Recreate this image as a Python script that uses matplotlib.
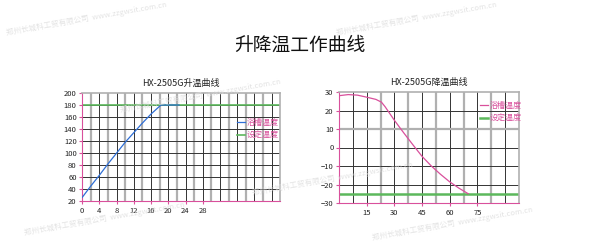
import matplotlib.pyplot as plt
import numpy as np

plt.rcParams['font.family'] = ['Noto Sans CJK SC', 'DejaVu Sans']

# 升温曲线
heat_t = [0, 2, 4, 6, 8, 10, 12, 14, 16, 18.3, 22.5]
heat_temp = [26, 45, 63, 82, 100, 118, 134, 150, 165, 180, 180]
heat_set = 180
heat_xticks = [0, 4, 8, 12, 16, 20, 24, 28]
heat_yticks = [20, 40, 60, 80, 100, 120, 140, 160, 180, 200]

# 降温曲线
cool_t = [0, 5, 10, 15, 20, 23, 25, 30, 35, 40, 45, 50, 55, 60, 65, 70]
cool_temp = [28, 28.6, 28.3, 27.2, 26, 24.5, 22, 14.7, 8, 1.5, -4.8, -10, -14.5, -18.6, -22, -25]
cool_set = -25
cool_xticks = [15, 30, 45, 60, 75]
cool_yticks = [-30, -20, -10, 0, 10, 20, 30]

labels = ['浴槽温度', '设定温度']

pink = '#d9509c'
green = '#5cb85c'
dark = '#333333'
gray = '#b0b0b0'

fig = plt.figure(figsize=(6, 2.5), dpi=100)
fig.text(0.5, 0.82, '升降温工作曲线', ha='center', va='center', fontsize=13.5,
         color='#111111', fontweight='medium')

# 水印
for x, y in [(0.01, 0.86), (0.56, 0.86), (0.2, 0.55), (0.42, 0.22), (0.62, 0.04), (0.04, 0.06)]:
    fig.text(x, y, '郑州长城科工贸有限公司  www.zzgwsit.com.cn', fontsize=5.5,
             color='#dcdcdc', rotation=10, alpha=0.8)


def style_axes(ax, xlim, ylim, vgrid, hgrid, vgray, hgray):
    ax.set_xlim(*xlim)
    ax.set_ylim(*ylim)
    for v in vgrid:
        if v in vgray:
            ax.axvline(v, color=gray, lw=1.6, zorder=1)
        else:
            ax.axvline(v, color=dark, lw=0.7, zorder=1)
    for h in hgrid:
        if h in hgray:
            ax.axhline(h, color=gray, lw=1.6, zorder=1)
        else:
            ax.axhline(h, color=dark, lw=0.7, zorder=1)
    for s in ['top', 'right']:
        ax.spines[s].set_color(gray)
        ax.spines[s].set_linewidth(1.2)
    for s in ['left', 'bottom']:
        ax.spines[s].set_color(pink)
        ax.spines[s].set_linewidth(0.8)
    ax.tick_params(labelsize=5.5, length=2, color=pink, pad=2, labelcolor='#222222')


a = fig.add_axes([0.137, 0.196, 0.33, 0.432])
vg = np.arange(2, 46, 2)
style_axes(a, (0, 46), (20, 200), vg, heat_yticks[1:-1],
           [v for v in vg if v % 4 == 2], [])
a.axhline(heat_set, color=green, lw=1.2, zorder=2)
a.plot(heat_t, heat_temp, color='#2f6fd6', lw=0.9, zorder=3)
a.set_xticks(heat_xticks)
a.set_yticks(heat_yticks)
a.set_title('HX-2505G升温曲线', fontsize=6.5, pad=5, color='#222222')
h1, = a.plot([], [], color='#2f6fd6', lw=0.9)
h2, = a.plot([], [], color=green, lw=1.2)
leg = a.legend([h1, h2], labels, loc='upper left', bbox_to_anchor=(0.76, 0.81),
               fontsize=5.8, frameon=False, handlelength=1.0, handletextpad=0.2,
               labelspacing=0.55, borderpad=0)
for t in leg.get_texts():
    t.set_color(pink)

b = fig.add_axes([0.565, 0.188, 0.3, 0.444])
vg2 = np.arange(7.5, 97.5, 7.5)
style_axes(b, (0, 97.5), (-30, 30), vg2, cool_yticks[1:-1],
           [v for v in vg2 if round(v / 7.5) % 2 == 1 and v > 10], [10])
b.axhline(cool_set, color=green, lw=1.8, zorder=2)
b.plot(cool_t, cool_temp, color=pink, lw=0.9, zorder=3)
b.set_xticks(cool_xticks)
b.set_yticks(cool_yticks)
b.set_title('HX-2505G降温曲线', fontsize=6.5, pad=5, color='#222222')
g1, = b.plot([], [], color=pink, lw=0.9)
g2, = b.plot([], [], color=green, lw=1.8)
leg2 = b.legend([g1, g2], labels, loc='upper left', bbox_to_anchor=(0.76, 0.96),
                fontsize=5.8, frameon=False, handlelength=1.0, handletextpad=0.2,
                labelspacing=0.5, borderpad=0)
for t in leg2.get_texts():
    t.set_color(pink)

fig.savefig('out.png', dpi=100, facecolor='white')
